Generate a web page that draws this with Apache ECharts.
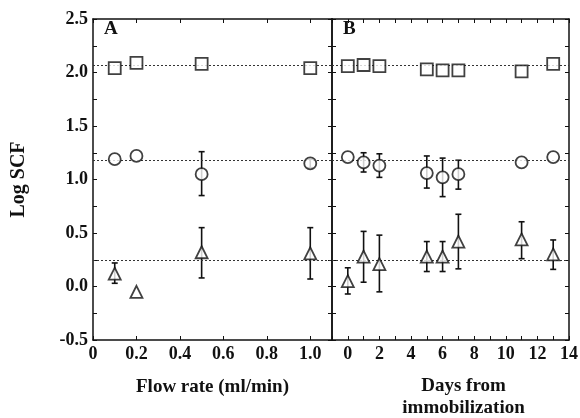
<!DOCTYPE html>
<html>
<head>
<meta charset="utf-8">
<script src="https://cdn.jsdelivr.net/npm/echarts@6/dist/echarts.min.js"></script>
<style>
  html, body { margin: 0; padding: 0; background: #fff; }
  #chart { width: 580px; height: 418px; }
</style>
</head>
<body>
<div id="chart"></div>
<script>
// panel A: flow rate
const flowRate = [0.1, 0.2, 0.5, 1.0];
const aSquare = [2.04, 2.09, 2.08, 2.04];
const aCircle = [1.19, 1.22, 1.05, 1.15];
const aCircleLo = [null, null, 0.85, 1.11];
const aCircleHi = [null, null, 1.26, 1.19];
const aTriangle = [0.12, -0.05, 0.32, 0.31];
const aTriangleLo = [0.03, null, 0.08, 0.07];
const aTriangleHi = [0.22, null, 0.55, 0.55];

// panel B: days from immobilization
const days = [0, 1, 2, 5, 6, 7, 11, 13];
const bSquare = [2.06, 2.07, 2.06, 2.03, 2.02, 2.02, 2.01, 2.08];
const bCircle = [1.21, 1.16, 1.13, 1.06, 1.02, 1.05, 1.16, 1.21];
const bCircleLo = [null, 1.07, 1.02, 0.92, 0.84, 0.91, null, null];
const bCircleHi = [null, 1.25, 1.24, 1.22, 1.20, 1.18, null, null];
const bTriangle = [0.05, 0.28, 0.21, 0.28, 0.28, 0.42, 0.44, 0.30];
const bTriangleLo = [-0.07, 0.04, -0.05, 0.14, 0.14, 0.165, 0.26, 0.16];
const bTriangleHi = [0.175, 0.515, 0.48, 0.42, 0.42, 0.675, 0.605, 0.435];

// mean lines across both panels
const refLines = [2.07, 1.18, 0.25];

const FONT = '"Liberation Serif", "DejaVu Serif", serif';
const black = '#111';

const pts = (xs, ys) => xs.map((x, i) => [x, ys[i]]);
const errPts = (xs, lo, hi) =>
  xs.map((x, i) => [x, lo[i], hi[i]]).filter(d => d[1] != null);

function errorSeries(data, xi) {
  return {
    type: 'custom',
    xAxisIndex: xi,
    yAxisIndex: xi,
    z: 2,
    silent: true,
    data: data,
    renderItem: (params, api) => {
      const lo = api.coord([api.value(0), api.value(1)]);
      const hi = api.coord([api.value(0), api.value(2)]);
      const w = 3;
      const style = { stroke: black, lineWidth: 1.6 };
      return {
        type: 'group',
        children: [
          { type: 'line', shape: { x1: lo[0], y1: lo[1], x2: hi[0], y2: hi[1] }, style },
          { type: 'line', shape: { x1: lo[0] - w, y1: lo[1], x2: lo[0] + w, y2: lo[1] }, style },
          { type: 'line', shape: { x1: hi[0] - w, y1: hi[1], x2: hi[0] + w, y2: hi[1] }, style }
        ]
      };
    }
  };
}

function markers(data, xi, symbol, size) {
  return {
    type: 'scatter',
    xAxisIndex: xi,
    yAxisIndex: xi,
    z: 5,
    symbol: symbol,
    symbolSize: size,
    itemStyle: { color: '#fff', borderColor: black, borderWidth: 1.8 },
    data: data
  };
}

function refLineSeries(xi) {
  return {
    type: 'scatter',
    xAxisIndex: xi,
    yAxisIndex: xi,
    data: [],
    markLine: {
      silent: true,
      symbol: 'none',
      label: { show: false },
      lineStyle: { color: '#333', width: 1, type: [2, 2] },
      data: refLines.map(v => ({ yAxis: v }))
    }
  };
}

const frame = { show: true, onZero: false, lineStyle: { color: black, width: 1.5 } };
const tick = (len) => ({ show: true, inside: true, length: len, lineStyle: { color: black, width: 1 } });
const tickLabel = { fontFamily: FONT, fontWeight: 'bold', fontSize: 18, color: black, margin: 5 };

function xAxis(grid, pos, min, max, interval, fmt) {
  return {
    type: 'value', gridIndex: grid, position: pos, min, max, interval,
    axisLine: frame, axisTick: tick(4), splitLine: { show: false },
    axisLabel: fmt ? Object.assign({ formatter: fmt, showMinLabel: true, showMaxLabel: true, hideOverlap: false }, tickLabel) : { show: false }
  };
}

function yAxis(grid, pos, withLabels) {
  return {
    type: 'value', gridIndex: grid, position: pos, min: -0.5, max: 2.5, interval: 0.25,
    axisLine: frame, axisTick: tick(4), splitLine: { show: false },
    axisLabel: withLabels ? Object.assign({
      formatter: v => Math.abs(v * 2 - Math.round(v * 2)) < 1e-6 ? v.toFixed(1) : ''
    }, tickLabel) : { show: false }
  };
}

const chart = echarts.init(document.getElementById('chart'), null, { renderer: 'canvas' });

const yMain = yAxis(0, 'left', true);
yMain.name = 'Log SCF';
yMain.nameLocation = 'middle';
yMain.nameGap = 64;
yMain.nameTextStyle = { fontFamily: FONT, fontWeight: 'bold', fontSize: 20, color: black };

const xA = xAxis(0, 'bottom', 0, 1.1, 0.2, v => v > 1.05 ? '' : (v === 0 ? '0' : v.toFixed(1)));
xA.name = 'Flow rate (ml/min)';
xA.nameLocation = 'middle';
xA.nameGap = 38;
xA.nameTextStyle = { fontFamily: FONT, fontWeight: 'bold', fontSize: 19, color: black };

const xB = xAxis(1, 'bottom', -1, 14, 1, v => (v >= 0 && v % 2 === 0) ? String(v) : '');
xB.name = 'Days from\nimmobilization';
xB.nameLocation = 'middle';
xB.nameGap = 35;
xB.nameTextStyle = { fontFamily: FONT, fontWeight: 'bold', fontSize: 19, color: black, lineHeight: 22, padding: [0, 0, 0, 26], verticalAlign: 'top' };

chart.setOption({
  animation: false,
  backgroundColor: '#fff',
  title: [
    { text: 'A', left: 99, top: 15, textStyle: { fontFamily: FONT, fontWeight: 'bold', fontSize: 19, color: black } },
    { text: 'B', left: 338, top: 15, textStyle: { fontFamily: FONT, fontWeight: 'bold', fontSize: 19, color: black } }
  ],
  grid: [
    { left: 93, right: 248, top: 19, bottom: 78, outerBoundsMode: 'none' },
    { left: 332, right: 11, top: 19, bottom: 78, outerBoundsMode: 'none' }
  ],
  xAxis: [
    xA,
    xAxis(0, 'top', 0, 1.1, 0.2, null),
    xB,
    xAxis(1, 'top', -1, 14, 1, null)
  ],
  yAxis: [
    yMain,
    yAxis(0, 'right', false),
    yAxis(1, 'left', false),
    yAxis(1, 'right', false)
  ],
  series: [
    refLineSeries(0),
    refLineSeries(2),
    errorSeries(errPts(flowRate, aCircleLo, aCircleHi), 0),
    errorSeries(errPts(flowRate, aTriangleLo, aTriangleHi), 0),
    errorSeries(errPts(days, bCircleLo, bCircleHi), 2),
    errorSeries(errPts(days, bTriangleLo, bTriangleHi), 2),
    markers(pts(flowRate, aSquare), 0, 'rect', 12),
    markers(pts(flowRate, aCircle), 0, 'circle', 12),
    markers(pts(flowRate, aTriangle), 0, 'triangle', 12),
    markers(pts(days, bSquare), 2, 'rect', 12),
    markers(pts(days, bCircle), 2, 'circle', 12),
    markers(pts(days, bTriangle), 2, 'triangle', 12)
  ]
});
</script>
</body>
</html>
